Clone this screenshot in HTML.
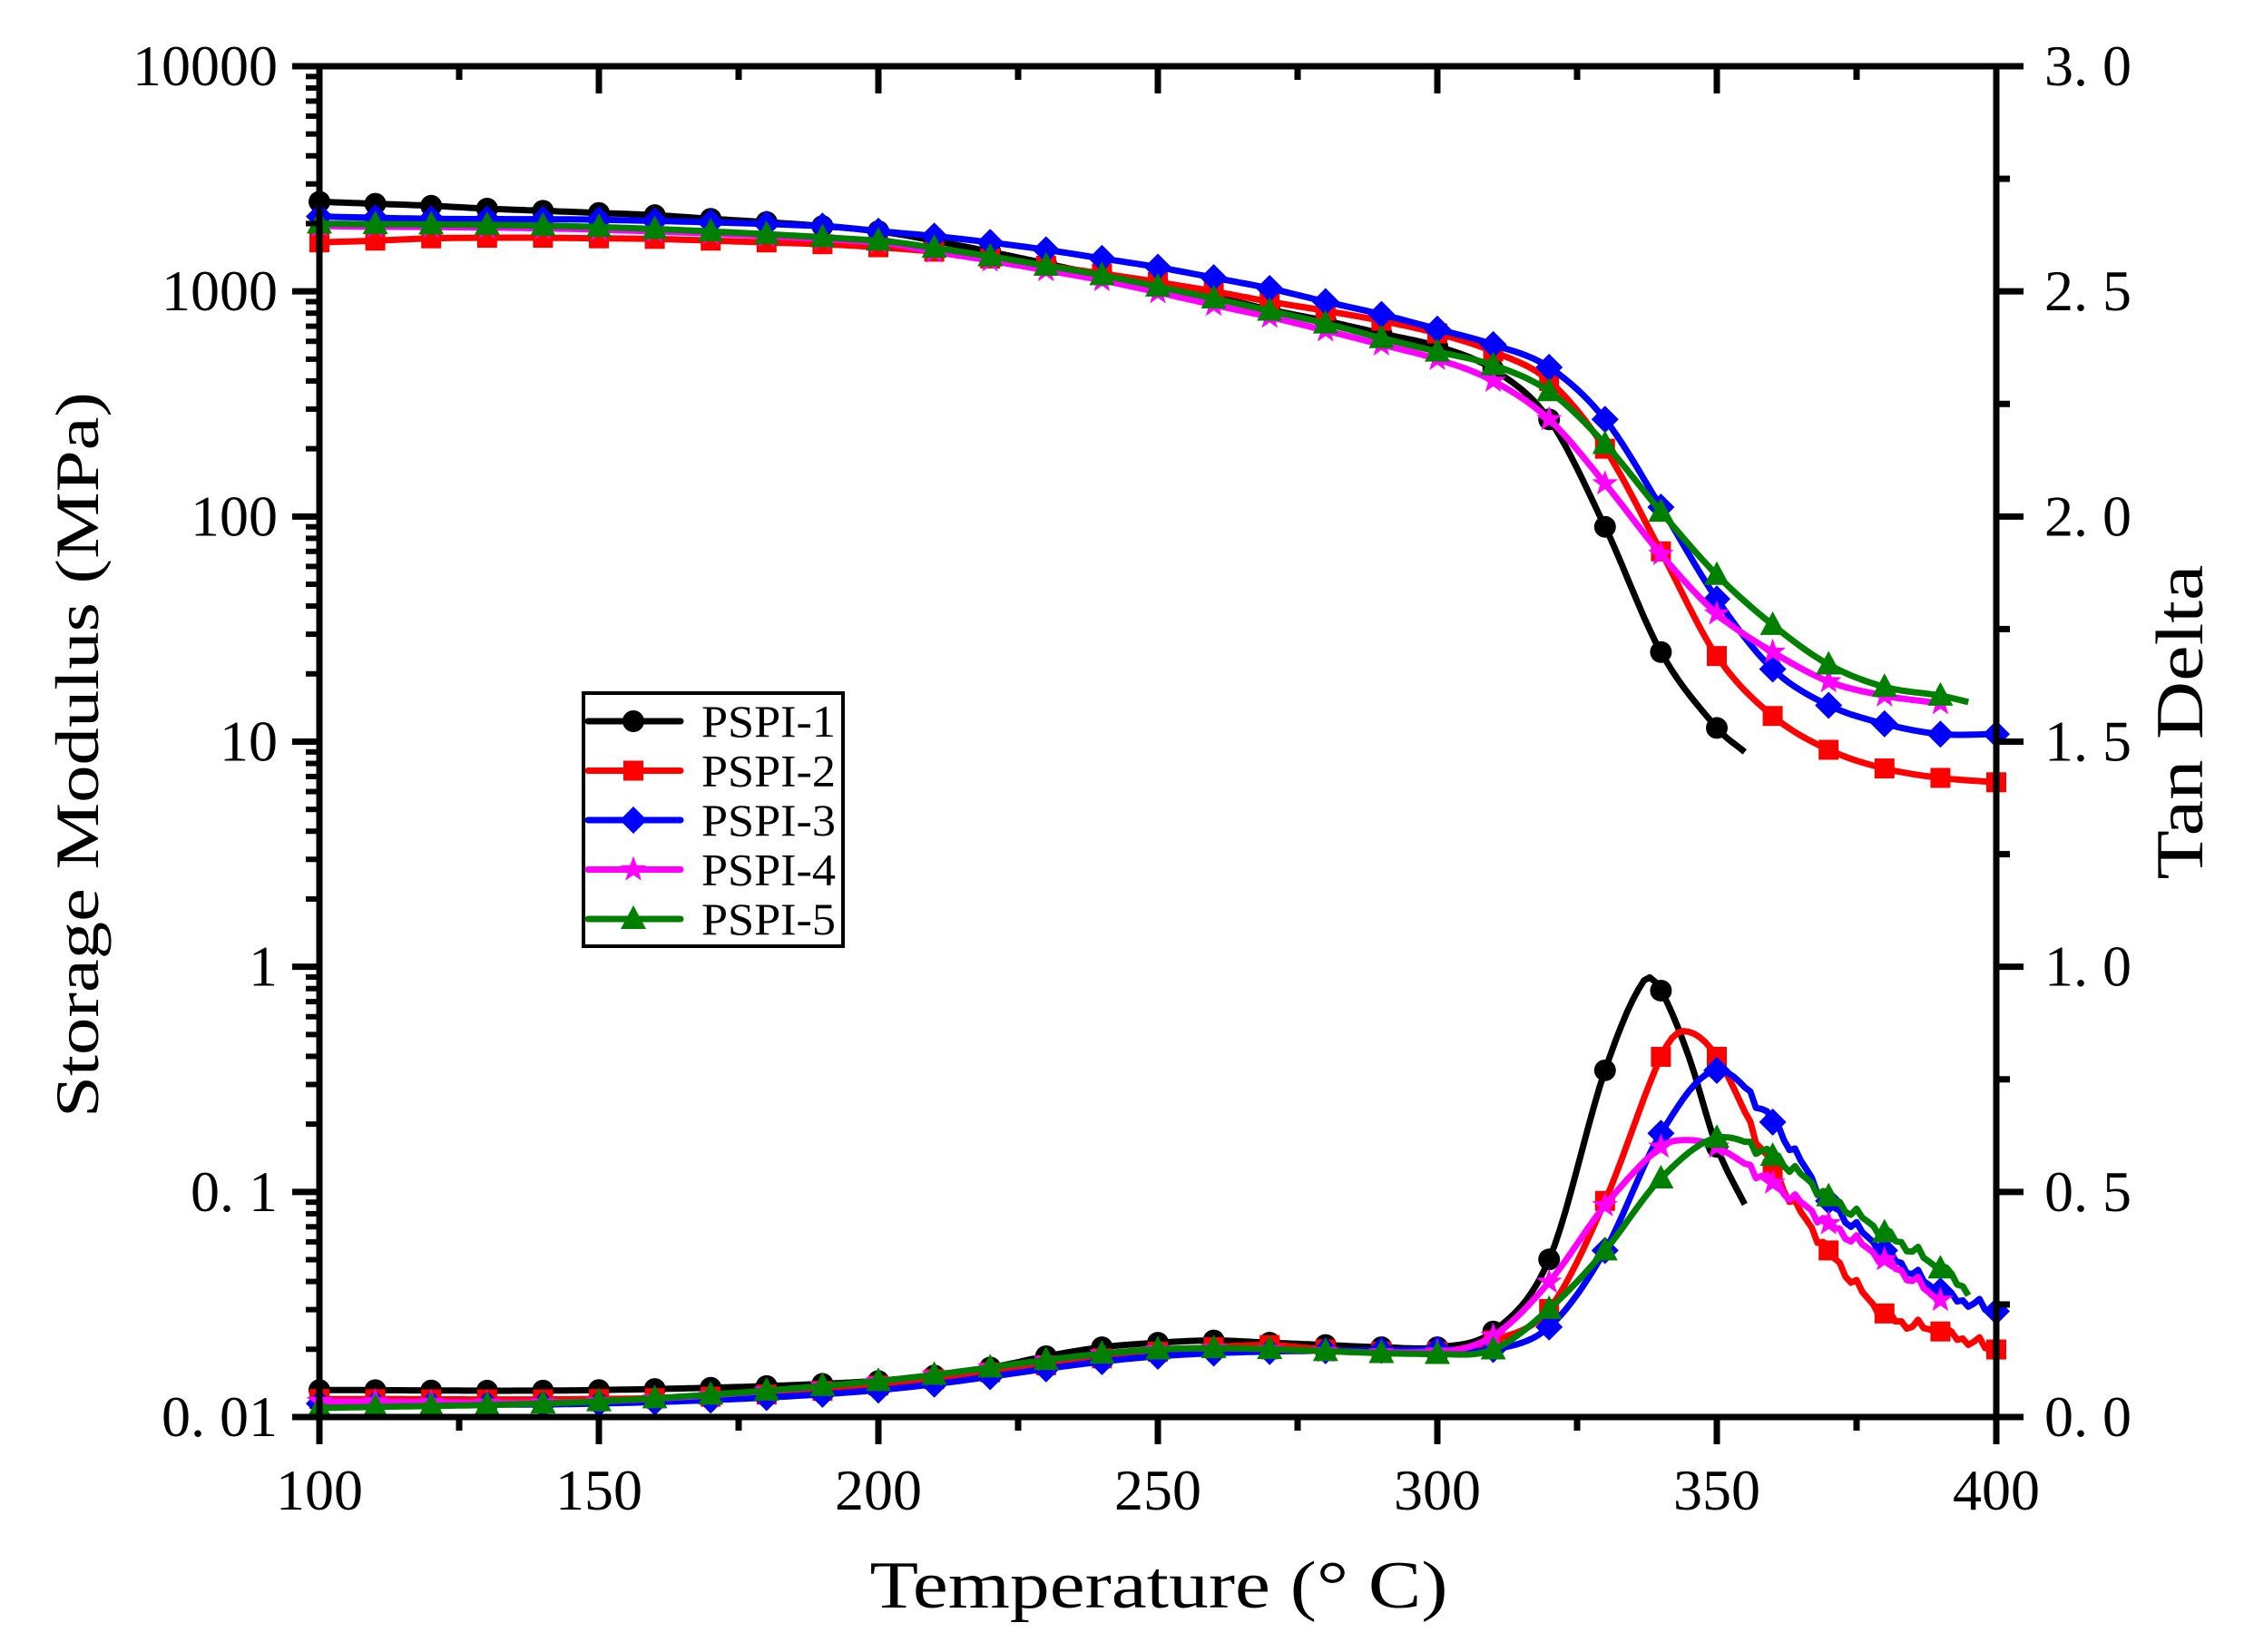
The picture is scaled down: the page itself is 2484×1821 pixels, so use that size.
<!DOCTYPE html>
<html><head><meta charset="utf-8"><style>
html,body{margin:0;padding:0;background:#fff}
svg{display:block}
text{font-family:"Liberation Serif","Noto Serif CJK SC",serif;fill:#000}
</style></head><body>
<svg id="s" xmlns="http://www.w3.org/2000/svg" width="2484" height="1821" viewBox="0 0 2484 1821">
<rect width="2484" height="1821" fill="#fff"/>
<g id="plot"></g>
<g id="axes"></g>
</svg>
<script>
var L=352,R=2200,T=73,B=1562;
function X(t){return L+(t-100)*(R-L)/300;}
function YL(v){return B-(Math.log10(v)+2)*(B-T)/6;}
function YT(v){return B-v*(B-T)/3;}
var NS="http://www.w3.org/2000/svg";
function el(p,n,a,txt){var e=document.createElementNS(NS,n);for(var k in a)e.setAttribute(k,a[k]);if(txt!==undefined)e.textContent=txt;p.appendChild(e);return e;}
var plot=document.getElementById('plot'),axes=document.getElementById('axes');
function interp(pts,t){for(var i=0;i<pts.length-1;i++){if(t>=pts[i][0]&&t<=pts[i+1][0]){var a=pts[i],b=pts[i+1],f=(t-a[0])/(b[0]-a[0]);
 var p0=pts[Math.max(0,i-1)],p3=pts[Math.min(pts.length-1,i+2)];
 var m1=(b[1]-p0[1])/(b[0]-p0[0])*(b[0]-a[0]),m2=(p3[1]-a[1])/(p3[0]-a[0])*(b[0]-a[0]);
 var f2=f*f,f3=f2*f;return (2*f3-3*f2+1)*a[1]+(f3-2*f2+f)*m1+(-2*f3+3*f2)*b[1]+(f3-f2)*m2;}}return pts[pts.length-1][1];}
function series(pts,yf,col,mk,log,noise){
 var t0=pts[0][0],t1=pts[pts.length-1][0],d="";
 var lp=pts.map(function(p){return[p[0],Math.log10(p[1])]});
 for(var t=t0;t<=t1+0.001;t+=1){var v=log?Math.pow(10,interp(lp,t)):interp(pts,t);
  if(noise&&t>355){v+=(Math.sin(t*2.3)+Math.sin(t*5.1))*0.008;}
  d+=(d?"L":"M")+X(t).toFixed(1)+","+yf(v).toFixed(1);}
 el(plot,"path",{d:d,fill:"none",stroke:col,"stroke-width":7,"stroke-linejoin":"round"});
 for(var t=t0;t<=t1;t+=10){if(t%10!==0)continue;var v=log?Math.pow(10,interp(lp,t)):interp(pts,t);marker(X(t),yf(v),col,mk);}
}
function marker(x,y,c,m){
 if(m=="o")el(plot,"circle",{cx:x,cy:y,r:12,fill:c});
 else if(m=="s")el(plot,"rect",{x:x-11,y:y-11,width:22,height:22,fill:c});
 else if(m=="d")el(plot,"polygon",{points:(x)+","+(y-15)+" "+(x+15)+","+y+" "+x+","+(y+15)+" "+(x-15)+","+y,fill:c});
 else if(m=="t")el(plot,"polygon",{points:x+","+(y-15)+" "+(x+14)+","+(y+11)+" "+(x-14)+","+(y+11),fill:c});
 else if(m=="*"){var p=[];for(var i=0;i<10;i++){var r=i%2?6:15,a=-Math.PI/2+i*Math.PI/5;p.push((x+r*Math.cos(a)).toFixed(1)+","+(y+r*Math.sin(a)).toFixed(1));}el(plot,"polygon",{points:p.join(" "),fill:c});}
}
var S1=[[100,2500],[110,2450],[120,2400],[130,2330],[140,2280],[150,2230],[160,2180],[170,2100],[180,2030],[190,1950],[200,1850],[210,1680],[220,1500],[230,1330],[240,1180],[250,1080],[260,950],[270,830],[280,740],[290,650],[300,570],[310,450],[320,270],[330,90],[340,25],[350,11.5],[355,9]];
var S2=[[100,1650],[110,1680],[120,1720],[130,1730],[140,1730],[150,1720],[160,1710],[170,1680],[180,1650],[190,1620],[200,1570],[210,1500],[220,1400],[230,1300],[240,1200],[250,1100],[260,1000],[270,900],[280,820],[290,740],[300,650],[310,540],[320,400],[330,200],[340,70],[350,24],[360,13],[370,9.2],[380,7.6],[390,6.9],[400,6.6]];
var S3=[[100,2150],[120,2100],[150,2080],[190,1950],[200,1850],[210,1760],[220,1650],[230,1530],[240,1400],[250,1280],[260,1150],[270,1030],[280,900],[290,790],[300,680],[310,580],[320,460],[330,270],[340,110],[350,43],[360,21],[370,14.5],[380,12],[390,10.8],[400,10.8]];
var S4=[[100,1950],[150,1880],[200,1650],[210,1500],[220,1370],[230,1240],[240,1120],[250,990],[260,870],[270,770],[280,670],[290,580],[300,500],[310,400],[320,270],[330,140],[340,68],[350,37],[360,25],[370,18.5],[380,16],[390,14.8]];
var S5=[[100,2000],[150,1930],[200,1680],[210,1560],[220,1430],[230,1300],[240,1180],[250,1050],[260,930],[270,820],[280,720],[290,620],[300,540],[310,470],[320,360],[330,210],[340,105],[350,55],[360,33],[370,22],[380,17.5],[390,16],[395,15]];
var D1=[[100,0.06],[150,0.06],[200,0.08],[220,0.11],[230,0.135],[240,0.155],[250,0.165],[260,0.17],[270,0.165],[280,0.16],[290,0.155],[300,0.155],[310,0.19],[320,0.35],[330,0.77],[337,0.97],[340,0.947],[345,0.8],[350,0.6],[355.5,0.46]];
var D2=[[100,0.04],[150,0.04],[180,0.05],[200,0.07],[250,0.145],[260,0.155],[270,0.16],[280,0.15],[290,0.145],[300,0.145],[310,0.17],[320,0.24],[330,0.48],[340,0.8],[344,0.857],[350,0.8],[360,0.55],[370,0.37],[380,0.23],[390,0.19],[400,0.15]];
var D3=[[100,0.03],[150,0.03],[200,0.06],[250,0.135],[300,0.15],[310,0.15],[320,0.2],[330,0.37],[340,0.63],[350,0.77],[360,0.655],[370,0.48],[380,0.37],[390,0.28],[400,0.235]];
var D4=[[100,0.035],[150,0.035],[200,0.08],[250,0.15],[300,0.145],[310,0.18],[320,0.3],[330,0.47],[340,0.6],[345,0.615],[350,0.6],[360,0.52],[370,0.43],[380,0.35],[390,0.26]];
var D5=[[100,0.02],[150,0.035],[200,0.08],[250,0.15],[300,0.14],[310,0.15],[320,0.24],[330,0.37],[340,0.53],[350,0.62],[360,0.58],[370,0.49],[380,0.41],[390,0.33],[395,0.28]];
series(S1,YL,"#000","o",true);series(S2,YL,"#f00","s",true);series(S3,YL,"#00f","d",true);series(S4,YL,"#f0f","*",true);series(S5,YL,"#008000","t",true);
series(D1,YT,"#000","o",false);series(D2,YT,"#f00","s",false,1);series(D3,YT,"#00f","d",false,1);series(D4,YT,"#f0f","*",false,1);series(D5,YT,"#008000","t",false,1);
el(axes,"rect",{x:L,y:T,width:R-L,height:B-T,fill:"none",stroke:"#000","stroke-width":7});
for(var t=100;t<=400;t+=25){var x=X(t),maj=t%50==0;
 el(axes,"line",{x1:x,y1:B,x2:x,y2:B+(maj?30:15),stroke:"#000","stroke-width":7});
 el(axes,"line",{x1:x,y1:T,x2:x,y2:T+(maj?30:15),stroke:"#000","stroke-width":7});
 if(maj)el(axes,"text",{x:x,y:1664,"font-size":64,"text-anchor":"middle"},String(t));}
var labs=["0. 01","0. 1","1","10","100","1000","10000"];
for(var e=-2;e<=4;e++){var y=YL(Math.pow(10,e));
 el(axes,"line",{x1:L-30,y1:y,x2:L,y2:y,stroke:"#000","stroke-width":7});
 el(axes,"text",{x:306,y:y+21,"font-size":64,"text-anchor":"end"},labs[e+2]);
 if(e<4)for(var k=2;k<=9;k++){var yy=YL(k*Math.pow(10,e));el(axes,"line",{x1:L-15,y1:yy,x2:L,y2:yy,stroke:"#000","stroke-width":6});}}
for(var i=0;i<=12;i++){var v=i*0.25,y=YT(v),maj=i%2==0;
 el(axes,"line",{x1:R,y1:y,x2:R+(maj?30:15),y2:y,stroke:"#000","stroke-width":7});
 if(maj)el(axes,"text",{x:2253,y:y+21,"font-size":64},v.toFixed(1).replace(".",". "));}
el(axes,"text",{x:1277,y:1772,"font-size":74,"text-anchor":"middle",textLength:637,lengthAdjust:"spacingAndGlyphs"},"Temperature (° C)");
el(axes,"text",{x:0,y:0,"font-size":68,"text-anchor":"middle",textLength:800,lengthAdjust:"spacingAndGlyphs",transform:"translate(108,832) rotate(-90)"},"Storage Modulus (MPa)");
el(axes,"text",{x:0,y:0,"font-size":74,"text-anchor":"middle",textLength:347,lengthAdjust:"spacingAndGlyphs",transform:"translate(2427,796) rotate(-90)"},"Tan Delta");
el(axes,"rect",{x:643,y:764,width:286,height:279,fill:"#fff",stroke:"#000","stroke-width":4});
var lg=[["PSPI-1","#000","o"],["PSPI-2","#f00","s"],["PSPI-3","#00f","d"],["PSPI-4","#f0f","*"],["PSPI-5","#008000","t"]];
for(var i=0;i<5;i++){var y=795+i*54.5;
 el(axes,"line",{x1:648,y1:y,x2:750,y2:y,stroke:lg[i][1],"stroke-width":7,"stroke-linecap":"round"});
 var tmp=plot;plot=axes;marker(698,y,lg[i][1],lg[i][2]);plot=tmp;
 el(axes,"text",{x:773,y:y+17,"font-size":50,textLength:148,lengthAdjust:"spacingAndGlyphs"},lg[i][0]);}
</script>
</body></html>
